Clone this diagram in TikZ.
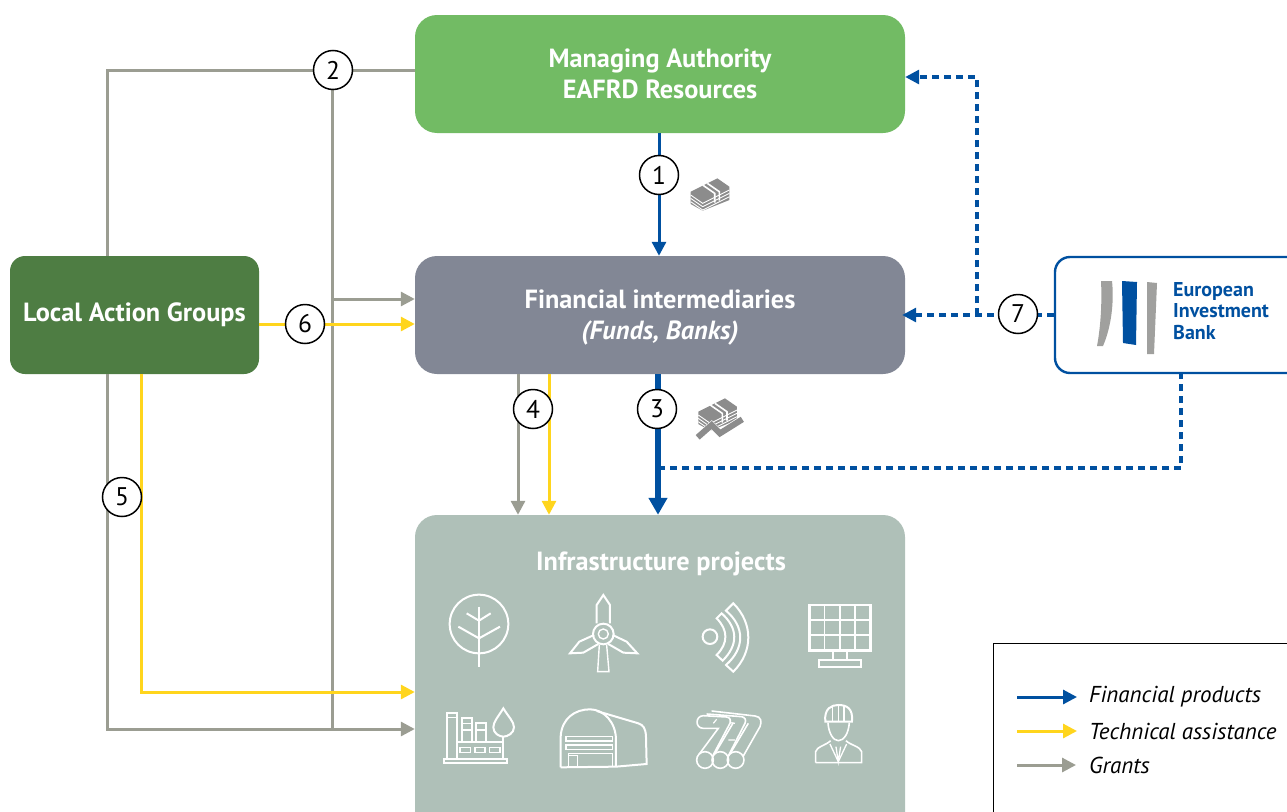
\documentclass[tikz,border=0pt]{standalone}
\usepackage{fontspec}
\setmainfont{PT Sans}
\usetikzlibrary{
  arrows.meta,
  shapes
}
\definecolor{eibblue}{HTML}{0050A0}
\definecolor{tayellow}{HTML}{FFD51D}
\definecolor{grantgray}{HTML}{9B9D92}
\definecolor{mgreen}{HTML}{72BB64}
\definecolor{dgreen}{HTML}{4E7D43}
\definecolor{slate}{HTML}{828795}
\definecolor{sage}{HTML}{AFC0B8}
\definecolor{cashgray}{HTML}{8C8C8C}
\definecolor{logogray}{HTML}{A0A09E}

\tikzset{
  box/.style={rounded corners=22pt, minimum width=490pt, minimum height=118pt, inner sep=0pt,
    align=center, text=white, font=\fontsize{26.3}{31}\selectfont\bfseries},
  finance/.style={draw=eibblue, line width=3pt, -{Triangle[length=14pt,width=14pt]}},
  finthick/.style={draw=eibblue, line width=5.5pt, -{Triangle[length=17pt,width=18pt]}},
  findash/.style={draw=eibblue, line width=3.1pt, dash pattern=on 7pt off 5pt},
  ta/.style={draw=tayellow, line width=3pt, -{Triangle[length=14pt,width=14pt]}},
  grant/.style={draw=grantgray, line width=3pt},
  grantarrow/.style={grant, -{Triangle[length=14pt,width=14pt]}},
  num/.style={circle, draw=black, fill=white, line width=1.5pt, minimum size=39pt, inner sep=0pt,
    font=\fontsize{25.5}{25.5}\selectfont},
  legendtext/.style={anchor=west, inner sep=0pt, font=\fontsize{23}{24}\selectfont\itshape},
  icon/.style={draw=white, line width=2pt, line join=miter}
}
% cash bundle, drawn from its left corner
\newcommand{\cashicon}{
  \fill[cashgray] (0,0) -- (80,-40) -- (116,-15) -- (116,25) -- (36,57) -- (0,37) -- cycle;
  \foreach \dy in {10,20,30}
    \draw[white, line width=0.9pt] (0,\dy) -- (36,\dy+25) -- (116,\dy-15);
  \draw[white, line width=1.6pt] (36,-20) -- (72,5) -- (72,33);
  \draw[white, line width=1.6pt] (50,-25) -- (86,0) -- (86,27);
}

\begin{document}
\begin{tikzpicture}[x=1pt, y=-1pt]
  \useasboundingbox (0,0) rectangle (1287,811);
  \clip (0,0) rectangle (1287,811);

  \def\Xbox{660};
  \def\Xleft{107};
  \def\Xmid{332};
  \def\Ymid{315};

  \node[box, fill=mgreen, text depth=-4pt] (managing) at (\Xbox, 74) {Managing Authority\\EAFRD Resources};
  \node[box, fill=slate, text depth=-4pt] (intermed) at (\Xbox, \Ymid) {Financial intermediaries\\\textit{(Funds, Banks)}};
  \node[box, fill=dgreen, rounded corners=15pt, minimum width=249pt] (lag) at (134.5, \Ymid) {Local Action Groups};
  \node[box, fill=sage, minimum height=320pt] (infra) at (\Xbox, 675) {};
  \node[anchor=center, text=white, font=\fontsize{26.3}{26.3}\selectfont\bfseries, inner sep=0pt] (infratitle) at (661, 564) {Infrastructure projects};
  \node[draw=eibblue, fill=white, line width=2.4pt, rounded corners=15pt, minimum width=260pt, minimum height=116pt] (eib) at (1185, \Ymid) {};
  \node[draw=black, line width=1pt, minimum width=320pt, minimum height=200pt, anchor=north west] (legend) at (993, 643) {};

  \coordinate (gtop) at (\Xleft, 70);
  \coordinate (gbot) at (\Xleft, 729);
  \coordinate (stop) at (\Xmid, 70);
  \coordinate (sbot) at (\Xmid, 729);
  \coordinate (sarr) at (\Xmid, 299);
  \coordinate (ylag) at (141, 692);
  \coordinate (lagy) at (141, 374);
  \coordinate (y6) at (259, 324);
  \coordinate (b1) at (659, 175);
  \coordinate (g4) at (518, 445);
  \coordinate (y4) at (549, 445);
  \coordinate (d3) at (658, 468);
  \coordinate (d3r) at (1181, 468);
  \coordinate (d7) at (977, \Ymid);
  \coordinate (d7t) at (977, 77);

  % grants
  \draw[grant] (lag.north -| gtop) -- (gtop) -- (gtop -| managing.west);
  \draw[grantarrow] (lag.south -| gbot) -- (gbot) -- (gbot -| infra.west);
  \draw[grant] (stop) -- (sbot);
  \draw[grantarrow] (sarr) -- (sarr -| intermed.west);
  \draw[grantarrow] (intermed.south -| g4) -- (infra.north -| g4);
  % technical assistance
  \draw[ta] (lagy) -- (ylag) -- (ylag -| infra.west);
  \draw[ta] (y6) -- (y6 -| intermed.west);
  \draw[ta] (intermed.south -| y4) -- (infra.north -| y4);
  % financial products
  \draw[finance] (managing.south -| b1) -- (intermed.north -| b1);
  \draw[finthick] (intermed.south -| d3) -- (infra.north -| d3);
  \draw[findash] (d3) -- (d3r) -- (eib.south -| d3r);
  \draw[findash, -{Triangle[length=14pt,width=14pt]}, shorten >=-3pt] (eib.west) -- (intermed.east);
  \draw[findash, -{Triangle[length=14pt,width=14pt]}] (d7) -- (d7t) -- (d7t -| managing.east);

  \node[num] (n1) at (659, 175) {1};
  \node[num] (n2) at (333, 70) {2};
  \node[num] (n3) at (657, 409) {3};
  \node[num] (n4) at (533, 409) {4};
  \node[num] (n5) at (122, 497) {5};
  \node[num] (n6) at (305, 324) {6};
  \node[num] (n7) at (1018, 314) {7};

  % bundles next to 1 and 3
  \begin{scope}[shift={(690.7,191.7)}, x=0.3333pt, y=-0.3333pt]
    \cashicon
  \end{scope}
  \begin{scope}[shift={(698.3,411.7)}, x=0.3333pt, y=-0.3333pt]
    \cashicon
  \end{scope}
  \begin{scope}[shift={(630,380)}, x=0.3333pt, y=-0.3333pt]
    \draw[white, line width=7pt] (205,170) -- (245,135) -- (270,160) -- (335,118);
    \draw[cashgray, line width=6pt] (203,172) -- (245,135) -- (270,160) -- (337,118);
  \end{scope}

  % EIB logo
  \fill[logogray] (1101,281) -- (1112,281) .. controls (1114,300) and (1112,325) .. (1103,346) -- (1097,346) .. controls (1101,325) and (1102,300) .. (1101,281) -- cycle;
  \fill[eibblue] (1122,281) -- (1137,282) -- (1136,345) -- (1123,343) -- cycle;
  \fill[logogray] (1147,282) -- (1157,283) -- (1154,354) -- (1147,354) -- cycle;
  \node[anchor=north west, inner sep=0pt, align=left, text=eibblue, font=\fontsize{20}{21.5}\selectfont\bfseries] (eibname) at (1173, 282) {European\\Investment\\Bank};

  % project icons
  \begin{scope}[shift={(420,580)}, x=0.3333pt, y=-0.3333pt]
    % tree
    \draw[icon] (177,132) circle (88);
    \draw[icon] (177,80) -- (177,260);
    \draw[icon] (140,100) -- (177,122) -- (212,100);
    \draw[icon] (115,140) -- (177,175) -- (240,140);
    % turbine
    \draw[icon] (550,162) circle (31);
    \draw[icon, line width=1.4pt] (550,162) circle (15);
    \draw[icon, line width=1.4pt] (538,195) -- (533,275) -- (567,275) -- (560,195);
    \draw[icon] (530,130) -- (530,75) -- (550,45) -- (570,75) -- (570,130);
    \draw[icon] (522,165) -- (478,185) -- (450,220) -- (490,218) -- (535,192);
    \draw[icon] (578,165) -- (620,185) -- (652,220) -- (610,218) -- (565,192);
    % signal
    \draw[icon] (870,170) circle (22);
    \draw[icon] (905,100) -- (890,115) .. controls (925,150) and (925,190) .. (890,225) -- (908,242) .. controls (955,195) and (955,145) .. (905,100) -- cycle;
    \draw[icon] (940,70) -- (918,92) .. controls (975,140) and (975,205) .. (918,255) -- (940,275) .. controls (1000,215) and (1000,130) .. (940,70) -- cycle;
    % solar panel
    \draw[icon, line width=2.4pt] (1168,75) rectangle (1352,212);
    \foreach \gx in {1214,1260,1306}
      \draw[icon, line width=1.6pt] (\gx,75) -- (\gx,212);
    \foreach \gy in {120,165}
      \draw[icon, line width=1.6pt] (1168,\gy) -- (1352,\gy);
    \draw[icon] (1238,212) -- (1238,240);
    \draw[icon] (1282,212) -- (1282,240);
    \draw[icon] (1197,240) rectangle (1323,262);
    % factory
    \draw[icon] (72,537) rectangle (260,550);
    \draw[icon] (80,537) -- (80,400) -- (110,400) -- (110,537);
    \draw[icon, line width=1.3pt] (80,412) -- (110,412);
    \draw[icon] (127,485) -- (127,415) -- (155,415) -- (155,485);
    \draw[icon, line width=1.3pt] (127,430) -- (155,430) (127,450) -- (155,450);
    \draw[icon] (168,485) -- (168,430) -- (198,430) -- (198,485);
    \draw[icon, line width=1.3pt] (168,450) -- (198,450);
    \draw[icon] (110,485) -- (248,485) -- (248,537);
    \draw[icon, line width=1.4pt] (120,503) rectangle (152,518);
    \draw[icon, line width=1.4pt] (165,503) rectangle (195,518);
    \draw[icon, line width=1.4pt] (208,503) rectangle (240,518);
    \draw[icon] (250,385) .. controls (235,410) and (220,425) .. (220,442) .. controls (220,460) and (238,470) .. (250,470) .. controls (262,470) and (282,460) .. (282,442) .. controls (282,425) and (265,410) .. (250,385) -- cycle;
    \draw[icon] (250,470) -- (250,537);
    % hangar
    \draw[icon] (422,562) -- (422,470) .. controls (425,415) and (465,388) .. (510,388) .. controls (550,388) and (588,425) .. (588,480) -- (588,560);
    \draw[icon] (422,562) -- (588,560) -- (680,552) -- (678,470) .. controls (677,445) and (670,435) .. (655,430) -- (530,393);
    \draw[icon, line width=1.6pt] (438,470) rectangle (578,483);
    \draw[icon, line width=1.6pt] (438,495) rectangle (578,508);
    \draw[icon, line width=1.6pt] (445,560) -- (445,520) -- (578,520) -- (578,560);
    \draw[icon, line width=1.4pt] (445,527) -- (472,527) -- (472,560);
    % pipes
    \foreach \dx in {0,46,92}
      \draw[icon, line width=1.6pt] (855+\dx,540) circle (25);
    \draw[icon, line width=1.6pt] (838,522) -- (895,445) -- (850,445) .. controls (825,445) and (825,408) .. (850,407) -- (920,411) .. controls (930,412) and (933,420) .. (930,430) -- (878,528);
    \draw[icon, line width=1.6pt] (884,522) -- (940,428) (860,402) -- (965,410) .. controls (976,412) and (979,420) .. (975,430) -- (925,528);
    \draw[icon, line width=1.6pt] (930,522) -- (985,430) (875,393) -- (1005,408) .. controls (1024,410) and (1026,425) .. (1020,440) -- (970,528);
    \draw[icon, line width=1.2pt] (880,430) -- (890,418) (930,428) -- (945,430) (925,480) -- (945,480);
    % worker
    \draw[icon] (1216,425) .. controls (1212,385) and (1235,375) .. (1255,375) .. controls (1280,375) and (1300,385) .. (1296,425) -- cycle;
    \draw[icon, line width=1.4pt] (1238,378) -- (1238,422) (1255,376) -- (1255,422) (1272,378) -- (1272,422);
    \draw[icon, line width=1.6pt] (1224,428) .. controls (1226,460) and (1240,482) .. (1255,482) .. controls (1272,482) and (1286,460) .. (1288,428);
    \draw[icon, line width=1.6pt] (1187,548) -- (1187,515) .. controls (1190,500) and (1220,495) .. (1232,482) (1278,482) .. controls (1290,495) and (1322,500) .. (1325,515) -- (1325,548) -- (1187,548);
    \draw[icon, line width=1.3pt] (1230,492) -- (1255,545) -- (1280,492);
    \draw[icon, line width=1.3pt] (1248,500) -- (1255,545) -- (1262,500);
  \end{scope}

  % legend
  \coordinate (lb) at (1017, 697);
  \coordinate (ly) at (1017, 731);
  \coordinate (lg) at (1017, 765);
  \coordinate (lbe) at (1077, 697);
  \coordinate (lye) at (1077, 731);
  \coordinate (lge) at (1076, 765);
  \draw[finance] (lb) -- (lbe);
  \draw[ta] (ly) -- (lye);
  \draw[grantarrow] (lg) -- (lge);
  \node[legendtext] (lfin) at (1089, 697) {Financial products};
  \node[legendtext] (lta) at (1089, 731) {Technical assistance};
  \node[legendtext] (lgr) at (1089, 765) {Grants};
\end{tikzpicture}
\end{document}
